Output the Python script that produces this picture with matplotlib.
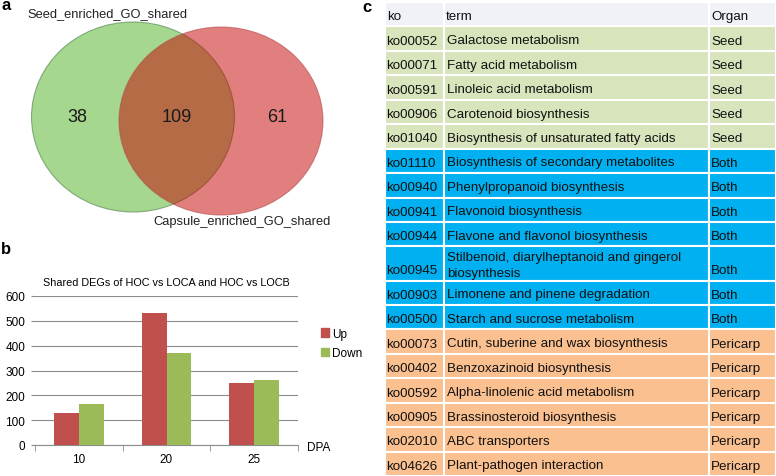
import matplotlib.pyplot as plt
from matplotlib.patches import Ellipse, Rectangle, Patch

plt.rcParams['font.family'] = ['Liberation Sans', 'DejaVu Sans']

W, H = 776, 477

# panel a: venn
venn_names = ['Seed_enriched_GO_shared', 'Capsule_enriched_GO_shared']
venn_counts = [38, 109, 61]

# panel b: shared DEGs
dpa = ['10', '20', '25']
up = [127, 533, 250]
down = [167, 371, 262]

# panel c: KEGG table
ko_ids = ['ko00052', 'ko00071', 'ko00591', 'ko00906', 'ko01040',
          'ko01110', 'ko00940', 'ko00941', 'ko00944', 'ko00945', 'ko00903', 'ko00500',
          'ko00073', 'ko00402', 'ko00592', 'ko00905', 'ko02010', 'ko04626']
terms = ['Galactose metabolism', 'Fatty acid metabolism', 'Linoleic acid metabolism',
         'Carotenoid biosynthesis', 'Biosynthesis of unsaturated fatty acids',
         'Biosynthesis of secondary metabolites', 'Phenylpropanoid biosynthesis',
         'Flavonoid biosynthesis', 'Flavone and flavonol biosynthesis',
         'Stilbenoid, diarylheptanoid and gingerol\nbiosynthesis',
         'Limonene and pinene degradation', 'Starch and sucrose metabolism',
         'Cutin, suberine and wax biosynthesis', 'Benzoxazinoid biosynthesis',
         'Alpha-linolenic acid metabolism', 'Brassinosteroid biosynthesis',
         'ABC transporters', 'Plant-pathogen interaction']
organs = ['Seed'] * 5 + ['Both'] * 7 + ['Pericarp'] * 6
organ_colors = {'Seed': '#d8e4bc', 'Both': '#00b0f0', 'Pericarp': '#fac090'}

fig = plt.figure(figsize=(W / 100, H / 100), dpi=100)

# overlay axes in pixel units for venn, table and panel letters
ov = fig.add_axes([0, 0, 1, 1])
ov.set_xlim(0, W)
ov.set_ylim(H, 0)
ov.axis('off')

ov.add_patch(Ellipse((133, 118), 203, 190, facecolor=(0.30, 0.69, 0.12, 0.5),
                     edgecolor=(0.3, 0.5, 0.3, 0.6), lw=0.8))
ov.add_patch(Ellipse((221, 122), 204, 188, facecolor=(0.77, 0.0, 0.0, 0.5),
                     edgecolor=(0.7, 0.3, 0.3, 0.6), lw=0.8))
ov.text(27, 14, venn_names[0], fontsize=9.3, va='center', ha='left', color='#222222')
ov.text(153, 222, venn_names[1], fontsize=9.3, va='center', ha='left', color='#222222')
for xx, n in zip([77, 177, 277], venn_counts):
    ov.text(xx, 117, str(n), fontsize=13, ha='center', va='center', color='#1a1a1a')

ov.text(1, 6, 'a', fontsize=12, fontweight='bold', va='center')
ov.text(1, 250, 'b', fontsize=12, fontweight='bold', va='center')
ov.text(362, 7, 'c', fontsize=12, fontweight='bold', va='center')

# table
x0, x1, x2, x3 = 385, 444, 709, 776
top = 3
row_h = 24.45
extra = 9.6
fs = 9.6
for xl, w, s in [(x0, x1 - x0, 'ko'), (x1, x2 - x1, 'term'), (x2, x3 - x2, 'Organ')]:
    ov.add_patch(Rectangle((xl, top), w, row_h, facecolor='#f0f2f8', edgecolor='white', lw=1.5))
    ov.text(xl + 2, top + row_h / 2 + 2, s, fontsize=fs, va='center', color='#111111')
y = top + row_h
for ko, term, org in zip(ko_ids, terms, organs):
    nl = term.count('\n') + 1
    h = row_h + extra * (nl - 1)
    col = organ_colors[org]
    for xl, w in [(x0, x1 - x0), (x1, x2 - x1), (x2, x3 - x2)]:
        ov.add_patch(Rectangle((xl, y), w, h, facecolor=col, edgecolor='white', lw=1.5))
    yb = y + h - row_h / 2 + 2
    ov.text(x0 + 1, yb, ko, fontsize=fs, va='center', color='#111111')
    ov.text(x2 + 2, yb, org, fontsize=fs, va='center', color='#111111')
    ov.text(x1 + 3, y + h / 2 + 1.5, term, fontsize=fs, va='center', color='#111111',
            linespacing=1.5)
    y += h

# panel b: bar chart
ax = fig.add_axes([35 / W, 1 - 446 / H, (298 - 35) / W, (446 - 297) / H])
xs = range(len(dpa))
bw = 0.284
ax.bar([x - bw / 2 for x in xs], up, bw, color='#c0504d', label='Up', zorder=3)
ax.bar([x + bw / 2 for x in xs], down, bw, color='#9bbb59', label='Down', zorder=3)
ax.set_xlim(-0.5, 2.5)
ax.set_ylim(0, 600)
ax.set_yticks(range(0, 601, 100))
ax.yaxis.grid(True, color='#8c8c8c', lw=0.8)
ax.set_axisbelow(True)
ax.set_xticks(list(xs))
ax.set_xticklabels(dpa)
ax.set_xticks([-0.5, 0.5, 1.5, 2.5], minor=True)
ax.tick_params(axis='x', which='major', length=0, pad=6, labelsize=8.5)
ax.tick_params(axis='x', which='minor', length=4, color='#8c8c8c')
ax.tick_params(axis='y', length=3, color='#8c8c8c', labelsize=8.5, pad=4)
for s in ['top', 'right', 'left']:
    ax.spines[s].set_visible(False)
ax.spines['bottom'].set_color('#8c8c8c')
ax.set_title('Shared DEGs of HOC vs LOCA and HOC vs LOCB', fontsize=7.8, pad=8, x=0.5)
ax.legend(handles=[Patch(color='#c0504d', label='Up'), Patch(color='#9bbb59', label='Down')],
          loc='upper left', bbox_to_anchor=(310 / W, 1 - 318 / H), bbox_transform=fig.transFigure,
          frameon=False, fontsize=8.5, handlelength=0.7, handleheight=0.7, handletextpad=0.3,
          labelspacing=0.65)
fig.text(307 / W, 1 - 448 / H, 'DPA', fontsize=8.5, va='center')

fig.savefig('out.png', dpi=100)
